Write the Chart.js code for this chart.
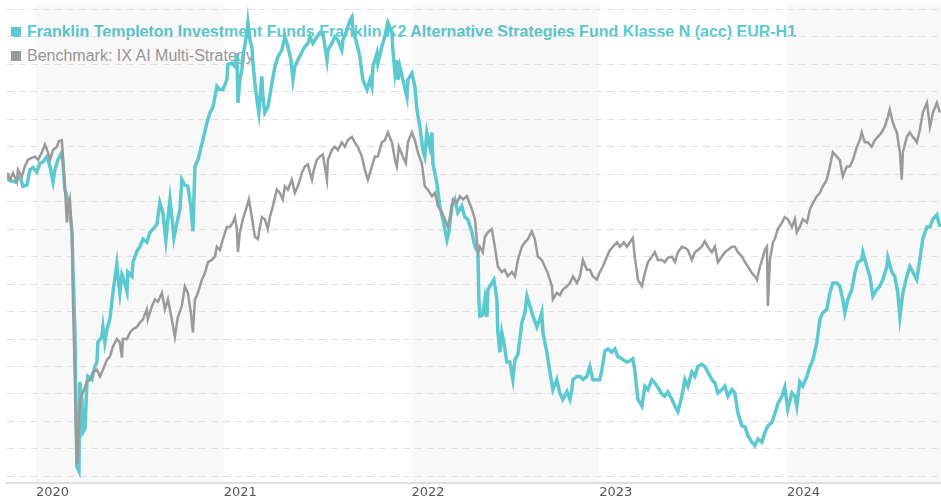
<!DOCTYPE html>
<html>
<head>
<meta charset="utf-8">
<script src="https://cdn.jsdelivr.net/npm/chart.js@4.4.1/dist/chart.umd.min.js"></script>
<style>
body { margin: 0; background: #fff; }
#wrap { position: relative; width: 941px; height: 501px; }
.item { position: absolute; left: 11px; font-family: "Liberation Sans", Arial, sans-serif; font-size: 16px; line-height: 20px; white-space: nowrap; z-index: 0; }
.item .box { display: inline-block; width: 10px; height: 10px; margin-right: 6px; }
#fundItem { top: 21.8px; color: #5cc8d0; font-weight: bold; }
#fundItem .box { background: #5cc8d0; }
#benchItem { top: 46.2px; color: #999; }
#benchItem .box { background: #999; }
canvas { position: absolute; left: 0; top: 0; z-index: 1; }
</style>
</head>
<body>
<div id="wrap">
  <div class="item" id="fundItem"><span class="box"></span>Franklin Templeton Investment Funds Franklin K2 Alternative Strategies Fund Klasse N (acc) EUR-H1</div>
  <div class="item" id="benchItem"><span class="box"></span>Benchmark: IX AI Multi-Strategy</div>
  <canvas id="main-chart" width="941" height="501"></canvas>
</div>
<script>
var yearLabels = ['2020', '2021', '2022', '2023', '2024'];
var shadedYears = [2020, 2022, 2024];

// [decimal year, indexed value]
var fund = [
	[2019.846,100.1],[2019.851,99.5],[2019.888,99.3],[2019.915,99.8],[2019.931,98.9],[2019.952,99.0],[2019.968,100.4],[2019.984,100.6],
	[2020.005,100.2],[2020.021,101.0],[2020.037,101.1],[2020.059,101.6],[2020.075,100.7],[2020.091,99.3],[2020.101,100.4],[2020.117,101.3],
	[2020.138,102.0],[2020.144,101.0],[2020.154,98.6],[2020.170,97.7],[2020.181,96.5],[2020.192,94.7],[2020.197,91.6],[2020.208,85.6],
	[2020.213,78.9],[2020.218,73.4],[2020.229,73.0],[2020.234,81.1],[2020.245,79.5],[2020.250,76.5],[2020.261,76.8],[2020.272,81.1],
	[2020.277,81.6],[2020.298,81.3],[2020.314,82.5],[2020.325,82.9],[2020.330,84.7],[2020.351,85.2],[2020.357,86.1],[2020.367,84.7],
	[2020.378,85.9],[2020.394,86.8],[2020.410,89.2],[2020.431,91.8],[2020.437,90.7],[2020.447,89.2],[2020.458,90.9],[2020.463,90.7],
	[2020.485,89.3],[2020.490,91.1],[2020.511,90.7],[2020.517,92.0],[2020.538,93.0],[2020.554,93.4],[2020.570,94.1],[2020.591,93.8],
	[2020.607,94.7],[2020.623,95.0],[2020.644,95.4],[2020.660,97.4],[2020.676,96.5],[2020.692,94.0],[2020.703,95.9],[2020.714,97.7],
	[2020.724,96.1],[2020.735,94.2],[2020.751,95.6],[2020.767,96.8],[2020.777,99.5],[2020.793,99.0],[2020.809,98.9],[2020.825,97.1],
	[2020.836,94.8],[2020.847,100.7],[2020.863,101.3],[2020.873,102.0],[2020.889,103.1],[2020.911,104.7],[2020.927,105.6],[2020.943,106.1],
	[2020.964,108.0],[2020.980,107.7],[2020.996,107.7],[2021.017,108.6],[2021.022,110.0],[2021.044,110.1],[2021.060,109.8],[2021.070,111.0],
	[2021.076,106.5],[2021.086,108.6],[2021.097,109.5],[2021.102,110.7],[2021.124,112.9],[2021.129,113.8],[2021.140,112.2],[2021.150,111.6],
	[2021.156,110.1],[2021.166,108.3],[2021.177,106.8],[2021.187,105.6],[2021.203,108.9],[2021.209,107.0],[2021.219,105.6],[2021.235,106.1],
	[2021.257,108.3],[2021.273,109.8],[2021.289,110.7],[2021.310,111.3],[2021.326,112.5],[2021.342,111.6],[2021.358,110.4],[2021.369,108.6],
	[2021.379,109.8],[2021.395,110.4],[2021.416,111.1],[2021.432,111.6],[2021.448,111.9],[2021.459,112.5],[2021.475,111.9],[2021.496,112.5],
	[2021.512,112.9],[2021.528,112.9],[2021.550,110.4],[2021.555,111.3],[2021.576,111.9],[2021.592,112.5],[2021.608,112.2],[2021.629,111.3],
	[2021.635,112.2],[2021.656,113.1],[2021.672,114.0],[2021.683,114.3],[2021.688,113.1],[2021.709,111.9],[2021.725,110.7],[2021.741,108.6],
	[2021.763,107.7],[2021.779,108.6],[2021.789,108.0],[2021.795,109.8],[2021.816,111.0],[2021.821,110.1],[2021.842,111.6],[2021.858,112.5],
	[2021.874,113.8],[2021.896,112.9],[2021.901,111.3],[2021.912,109.2],[2021.922,110.4],[2021.928,108.6],[2021.938,109.8],[2021.954,108.6],
	[2021.976,107.0],[2021.981,108.6],[2022.002,109.2],[2022.018,108.0],[2022.029,105.9],[2022.045,104.3],[2022.061,102.2],[2022.071,101.6],
	[2022.082,103.8],[2022.098,102.5],[2022.109,103.8],[2022.114,101.0],[2022.135,99.2],[2022.151,97.1],[2022.167,95.9],[2022.189,94.0],
	[2022.199,94.7],[2022.215,97.1],[2022.231,97.7],[2022.247,96.5],[2022.268,97.1],[2022.284,96.1],[2022.300,95.9],[2022.322,94.7],
	[2022.338,93.4],[2022.354,92.9],[2022.359,88.6],[2022.364,87.1],[2022.380,87.2],[2022.391,88.6],[2022.402,87.0],[2022.407,89.5],
	[2022.428,90.1],[2022.439,90.4],[2022.455,88.6],[2022.460,85.6],[2022.471,83.8],[2022.481,85.6],[2022.492,84.7],[2022.508,82.9],
	[2022.524,82.9],[2022.540,81.3],[2022.551,83.1],[2022.567,83.6],[2022.588,86.5],[2022.604,87.4],[2022.615,88.9],[2022.631,88.0],
	[2022.647,87.1],[2022.668,86.1],[2022.684,86.8],[2022.694,87.4],[2022.700,85.6],[2022.721,83.8],[2022.737,82.0],[2022.753,80.4],
	[2022.774,81.3],[2022.790,80.1],[2022.806,79.5],[2022.828,80.2],[2022.844,79.5],[2022.854,80.4],[2022.860,81.3],[2022.881,81.6],
	[2022.897,81.6],[2022.913,81.3],[2022.934,81.6],[2022.950,82.5],[2022.966,81.3],[2022.987,81.3],[2023.003,81.3],[2023.014,82.2],
	[2023.030,83.9],[2023.046,84.1],[2023.067,83.8],[2023.083,84.1],[2023.099,83.4],[2023.120,83.2],[2023.147,82.9],[2023.163,83.0],
	[2023.179,83.2],[2023.189,82.2],[2023.206,79.5],[2023.227,78.9],[2023.243,80.7],[2023.259,80.4],[2023.280,81.3],[2023.296,81.0],
	[2023.312,80.6],[2023.333,80.0],[2023.349,79.8],[2023.365,80.2],[2023.387,79.5],[2023.403,78.9],[2023.419,78.4],[2023.440,79.8],
	[2023.456,81.3],[2023.472,80.7],[2023.493,82.0],[2023.509,81.6],[2023.525,82.5],[2023.546,82.7],[2023.562,82.5],[2023.578,82.0],
	[2023.600,81.3],[2023.616,81.0],[2023.632,80.1],[2023.653,80.4],[2023.669,80.7],[2023.685,79.8],[2023.706,80.4],[2023.722,80.1],
	[2023.738,78.3],[2023.760,77.1],[2023.776,77.0],[2023.792,76.2],[2023.813,75.6],[2023.829,75.3],[2023.845,75.9],[2023.866,75.6],
	[2023.882,76.5],[2023.898,77.1],[2023.919,77.4],[2023.935,78.2],[2023.951,79.1],[2023.973,79.8],[2023.988,80.6],[2024.004,78.6],
	[2024.026,80.1],[2024.042,79.8],[2024.052,78.9],[2024.068,81.1],[2024.084,80.7],[2024.106,81.6],[2024.122,82.5],[2024.138,83.1],
	[2024.159,84.7],[2024.175,86.8],[2024.191,87.4],[2024.212,87.7],[2024.228,89.2],[2024.244,90.1],[2024.265,90.1],[2024.281,89.8],
	[2024.297,88.6],[2024.308,87.4],[2024.324,88.6],[2024.345,89.5],[2024.361,91.0],[2024.377,92.0],[2024.398,92.2],[2024.404,92.9],
	[2024.425,91.6],[2024.441,90.7],[2024.457,88.9],[2024.478,89.5],[2024.494,89.8],[2024.510,90.4],[2024.532,91.6],[2024.537,92.4],
	[2024.558,91.1],[2024.574,90.7],[2024.590,89.2],[2024.601,87.0],[2024.617,89.2],[2024.638,90.7],[2024.654,91.6],[2024.670,91.1],
	[2024.691,90.4],[2024.707,92.2],[2024.723,94.1],[2024.745,95.2],[2024.761,95.2],[2024.777,95.9],[2024.798,96.3],[2024.814,95.2]
];

var bench = [
	[2019.846,100.1],[2019.862,99.5],[2019.878,100.1],[2019.899,99.3],[2019.904,100.4],[2019.925,99.8],[2019.941,100.7],[2019.957,101.3],
	[2019.979,101.5],[2019.995,101.6],[2020.011,101.3],[2020.032,102.0],[2020.048,102.7],[2020.064,102.0],[2020.075,101.3],[2020.091,102.2],
	[2020.112,102.5],[2020.122,103.0],[2020.138,103.1],[2020.144,101.6],[2020.154,98.9],[2020.165,95.6],[2020.170,96.8],[2020.181,97.7],
	[2020.192,94.7],[2020.197,88.6],[2020.208,81.1],[2020.213,76.8],[2020.218,73.6],[2020.229,76.8],[2020.234,79.5],[2020.250,80.1],
	[2020.272,81.1],[2020.288,81.3],[2020.304,82.0],[2020.325,82.2],[2020.341,81.6],[2020.357,82.2],[2020.378,83.1],[2020.394,83.4],
	[2020.410,84.3],[2020.431,85.0],[2020.447,84.7],[2020.458,83.3],[2020.463,85.0],[2020.485,85.0],[2020.501,85.6],[2020.517,85.9],
	[2020.538,86.1],[2020.554,86.5],[2020.570,86.8],[2020.591,87.7],[2020.596,86.8],[2020.618,88.0],[2020.634,88.6],[2020.650,88.4],
	[2020.671,89.2],[2020.687,87.7],[2020.703,88.6],[2020.724,86.8],[2020.740,85.2],[2020.756,87.0],[2020.777,88.0],[2020.793,89.8],
	[2020.809,89.2],[2020.825,87.4],[2020.836,85.6],[2020.847,88.6],[2020.863,89.2],[2020.884,90.4],[2020.900,91.0],[2020.916,92.0],
	[2020.937,92.2],[2020.953,92.5],[2020.964,93.4],[2020.980,93.1],[2020.996,94.1],[2021.017,95.2],[2021.033,95.2],[2021.049,95.6],
	[2021.060,96.1],[2021.070,95.0],[2021.076,92.9],[2021.086,94.7],[2021.102,95.9],[2021.124,97.1],[2021.134,97.7],[2021.150,96.1],
	[2021.166,94.3],[2021.182,94.1],[2021.193,95.2],[2021.203,96.1],[2021.219,95.9],[2021.235,95.0],[2021.246,96.1],[2021.262,97.1],
	[2021.283,98.6],[2021.299,98.3],[2021.315,97.7],[2021.326,98.9],[2021.342,98.6],[2021.363,99.5],[2021.379,98.3],[2021.395,98.9],
	[2021.416,100.1],[2021.432,100.7],[2021.448,100.9],[2021.470,99.5],[2021.480,100.4],[2021.496,101.3],[2021.512,101.6],[2021.528,101.8],
	[2021.550,99.5],[2021.555,101.3],[2021.576,102.2],[2021.592,102.5],[2021.608,102.2],[2021.629,102.9],[2021.645,102.5],[2021.661,103.1],
	[2021.683,103.4],[2021.698,102.9],[2021.714,102.5],[2021.736,101.6],[2021.752,100.4],[2021.768,99.5],[2021.789,100.7],[2021.805,101.6],
	[2021.821,101.6],[2021.842,102.9],[2021.858,103.1],[2021.874,103.8],[2021.896,102.9],[2021.912,101.3],[2021.922,100.7],[2021.933,102.5],
	[2021.954,101.6],[2021.970,101.0],[2021.981,102.9],[2022.002,103.8],[2022.018,103.1],[2022.034,102.0],[2022.055,101.0],[2022.071,98.9],
	[2022.087,98.6],[2022.109,98.0],[2022.125,98.3],[2022.141,97.1],[2022.162,96.5],[2022.178,95.9],[2022.194,95.2],[2022.210,96.5],
	[2022.221,97.7],[2022.242,97.4],[2022.258,98.0],[2022.274,97.7],[2022.295,98.0],[2022.322,96.8],[2022.338,95.9],[2022.354,92.9],
	[2022.364,93.4],[2022.380,92.9],[2022.391,94.3],[2022.407,94.7],[2022.428,95.0],[2022.444,93.4],[2022.460,91.6],[2022.481,91.1],
	[2022.497,91.3],[2022.513,90.7],[2022.535,91.1],[2022.551,90.7],[2022.567,92.2],[2022.588,93.4],[2022.604,93.8],[2022.620,94.1],
	[2022.641,94.8],[2022.657,94.1],[2022.673,92.5],[2022.694,92.2],[2022.710,91.6],[2022.726,91.0],[2022.748,89.8],[2022.753,88.6],
	[2022.774,89.2],[2022.790,89.0],[2022.806,89.5],[2022.828,89.8],[2022.844,90.1],[2022.860,90.7],[2022.881,90.1],[2022.897,90.7],
	[2022.913,92.2],[2022.934,91.3],[2022.950,91.3],[2022.966,90.7],[2022.987,90.4],[2023.003,91.1],[2023.019,91.6],[2023.041,92.5],
	[2023.057,93.1],[2023.073,93.4],[2023.094,93.8],[2023.110,93.4],[2023.131,93.8],[2023.147,93.4],[2023.163,93.8],[2023.179,94.2],
	[2023.189,92.5],[2023.206,90.4],[2023.227,89.8],[2023.243,91.0],[2023.259,92.0],[2023.280,92.5],[2023.296,92.9],[2023.312,92.2],
	[2023.333,92.2],[2023.349,92.0],[2023.365,92.4],[2023.387,92.5],[2023.403,92.0],[2023.419,92.9],[2023.440,93.4],[2023.456,93.3],
	[2023.472,93.1],[2023.493,92.2],[2023.509,92.9],[2023.525,93.1],[2023.546,93.4],[2023.562,93.9],[2023.578,93.4],[2023.600,92.9],
	[2023.616,93.4],[2023.632,92.0],[2023.653,92.5],[2023.669,92.9],[2023.685,93.1],[2023.706,93.4],[2023.722,93.4],[2023.738,92.9],
	[2023.760,92.5],[2023.776,92.0],[2023.792,91.6],[2023.813,91.0],[2023.829,90.7],[2023.840,90.4],[2023.856,91.6],[2023.872,92.5],
	[2023.882,93.1],[2023.893,93.4],[2023.898,88.0],[2023.909,92.2],[2023.925,93.8],[2023.935,94.1],[2023.951,95.0],[2023.973,95.6],
	[2023.988,96.1],[2024.004,95.9],[2024.026,95.2],[2024.042,95.9],[2024.052,94.7],[2024.068,95.2],[2024.084,95.9],[2024.106,95.6],
	[2024.122,96.8],[2024.138,97.4],[2024.159,98.0],[2024.175,98.3],[2024.191,98.9],[2024.212,99.5],[2024.228,100.7],[2024.244,102.0],
	[2024.265,101.6],[2024.281,101.3],[2024.297,99.8],[2024.318,100.7],[2024.334,100.7],[2024.351,101.3],[2024.372,102.5],[2024.388,103.1],
	[2024.398,103.8],[2024.414,102.9],[2024.430,102.9],[2024.451,102.5],[2024.467,103.1],[2024.483,103.4],[2024.504,103.8],[2024.520,104.3],
	[2024.537,105.2],[2024.547,105.9],[2024.563,104.7],[2024.585,103.8],[2024.601,102.0],[2024.611,99.5],[2024.617,102.0],[2024.638,103.4],
	[2024.654,103.8],[2024.670,103.4],[2024.691,102.9],[2024.707,104.0],[2024.723,105.6],[2024.745,106.5],[2024.761,104.3],[2024.777,105.6],
	[2024.798,106.5],[2024.814,105.6]
];

function toPoints(rows) {
	return rows.map(function (r) { return { x: r[0], y: r[1] }; });
}

// light background for every other calendar year
var yearBands = {
	id: 'yearBands',
	beforeDraw: function (chart) {
		var ctx = chart.ctx, area = chart.chartArea, x = chart.scales.x;
		ctx.save();
		ctx.fillStyle = 'rgba(0,0,0,0.028)';
		shadedYears.forEach(function (yr) {
			var l = Math.max(x.getPixelForValue(yr), area.left);
			var r = Math.min(x.getPixelForValue(yr + 1), area.right);
			if (r > l) ctx.fillRect(l, area.top, r - l, area.bottom - area.top);
		});
		ctx.restore();
	}
};

var ctx = document.getElementById('main-chart');
var chart = new Chart(ctx, {
	type: 'line',
	data: {
		datasets: [{
			label: 'Franklin Templeton Investment Funds Franklin K2 Alternative Strategies Fund Klasse N (acc) EUR-H1',
			data: toPoints(fund),
			borderColor: '#5cc8d0',
			borderWidth: 3.5,
			pointRadius: 0,
			tension: 0,
			order: 1
		}, {
			label: 'Benchmark: IX AI Multi-Strategy',
			data: toPoints(bench),
			borderColor: '#9a9a9a',
			borderWidth: 2.5,
			pointRadius: 0,
			tension: 0,
			order: 0
		}]
	},
	options: {
		responsive: false,
		animation: false,
		devicePixelRatio: 1,
		layout: { padding: { left: 7, top: 4, right: 0, bottom: 0 } },
		plugins: { legend: { display: false }, tooltip: { enabled: false } },
		scales: {
			x: {
				type: 'linear',
				min: 2019.846,
				max: 2024.82,
				grid: { display: false, drawTicks: false },
				border: { display: true, color: '#dedede', width: 2 },
				afterBuildTicks: function (scale) {
					scale.ticks = yearLabels.map(function (l) { return { value: Number(l) }; });
				},
				ticks: {
					align: 'start',
					padding: 1,
					maxRotation: 0,
					autoSkip: false,
					color: '#555',
					font: { family: 'DejaVu Sans', size: 13 },
					callback: function (v) { return String(v); }
				}
			},
			y: {
				min: 71.86,
				max: 115.49,
				ticks: { display: false, stepSize: 2.5, includeBounds: false },
				grid: { color: '#e0e0e0', drawTicks: false, lineWidth: 1 },
				border: { display: false, dash: [7, 5] }
			}
		}
	},
	plugins: [yearBands]
});
</script>
</body>
</html>
